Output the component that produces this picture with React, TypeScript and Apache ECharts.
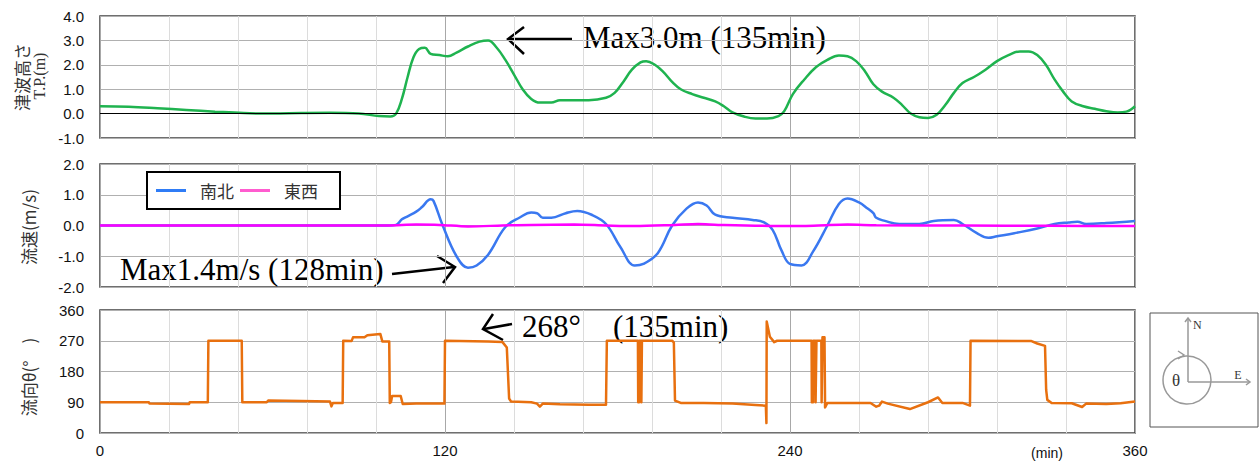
import React, { useEffect, useRef } from "react";
import * as echarts from "echarts";

// time (min) / value pairs
const tsunamiHeight: [number, number][] = [
  [0, 0.3], [10, 0.28], [20, 0.22], [30, 0.15], [40, 0.08], [50, 0.02], [60, 0.0], [70, 0.02], [80, 0.03],
  [90, 0.0], [97, -0.1], [101, -0.12], [103, 0.0], [105, 0.6], [107, 1.5], [109, 2.3], [111, 2.65], [113, 2.7],
  [115, 2.45], [118, 2.4], [121, 2.35], [124, 2.5], [128, 2.75], [132, 2.95], [135, 3.0], [138, 2.7], [141, 2.2],
  [144, 1.6], [147, 1.0], [150, 0.6], [153, 0.45], [157, 0.45], [160, 0.55], [165, 0.55], [170, 0.55], [176, 0.65],
  [179, 0.85], [182, 1.3], [185, 1.8], [188, 2.1], [190, 2.15], [193, 2.0], [196, 1.7], [199, 1.3], [202, 1.0],
  [206, 0.8], [210, 0.65], [214, 0.5], [217, 0.3], [220, 0.05], [224, -0.12], [228, -0.2], [232, -0.2], [236, -0.1],
  [238, 0.1], [241, 0.8], [245, 1.4], [249, 1.9], [253, 2.2], [257, 2.38], [260, 2.35], [263, 2.15], [266, 1.75],
  [269, 1.2], [272, 0.9], [276, 0.65], [279, 0.35], [282, 0.0], [285, -0.15], [288, -0.18], [291, -0.05], [294, 0.35],
  [297, 0.85], [300, 1.25], [304, 1.5], [308, 1.8], [312, 2.15], [316, 2.4], [320, 2.55], [323, 2.55], [326, 2.4],
  [329, 2.0], [332, 1.4], [335, 0.9], [338, 0.5], [342, 0.3], [346, 0.2], [350, 0.1], [354, 0.05], [357, 0.08], [360, 0.3],
];

const velocityNS: [number, number][] = [
  [0, 0], [60, 0], [100, 0], [103, 0.02], [105, 0.2], [107, 0.3], [110, 0.45], [112, 0.6], [115, 0.85], [116, 0.8],
  [119, 0.05], [124, -1.0], [128, -1.37], [131, -1.3], [135, -0.95], [141, -0.05], [146, 0.26], [150, 0.42],
  [152, 0.4], [154, 0.25], [157, 0.25], [162, 0.4], [166, 0.47], [171, 0.35], [176, 0.05], [181, -0.7], [186, -1.3],
  [189, -1.25], [194, -0.9], [199, 0], [204, 0.55], [208, 0.75], [211, 0.65], [214, 0.35], [220, 0.25], [227, 0.18],
  [231, 0.1], [234, -0.15], [237, -0.8], [240, -1.25], [244, -1.3], [248, -0.85], [253, 0], [257, 0.7], [260, 0.88],
  [264, 0.75], [267, 0.55], [269, 0.4], [270, 0.25], [273, 0.15], [278, 0.05], [285, 0.05], [290, 0.15], [297, 0.18],
  [300, 0.05], [305, -0.25], [309, -0.4], [312, -0.35], [318, -0.25], [326, -0.1], [332, 0.05], [337, 0.1],
  [340, 0.12], [343, 0.05], [350, 0.08], [360, 0.15],
];

const velocityEW: [number, number][] = [
  [0, 0], [100, 0], [110, 0.03], [118, 0.02], [128, -0.03], [140, 0], [150, 0.02], [165, 0.03], [176, 0.0],
  [186, -0.02], [200, 0.02], [208, 0.05], [215, 0.02], [240, -0.02], [250, 0.0], [260, 0.03], [270, 0.01],
  [300, 0.0], [330, -0.01], [360, -0.02],
];

const flowDirection: [number, number][] = [
  [0, 90], [17, 90], [17.2, 86], [31, 85], [31.2, 90], [37.5, 90], [37.7, 270], [49.3, 270], [49.5, 90], [58, 90],
  [58.5, 95], [70, 94], [75, 93], [80, 92], [80.5, 78], [81, 88], [84.4, 88], [84.6, 270], [87.5, 269], [88, 280],
  [92, 280], [93, 286], [97.5, 290], [98.2, 268], [100.6, 268], [100.8, 88], [101.2, 90], [101.6, 108], [104.6, 108],
  [105.3, 85], [110, 86], [119.8, 86], [120, 270], [135, 268], [140, 266], [141.5, 250], [142.3, 101], [143, 92],
  [150, 90], [152, 86], [153, 77], [154, 86], [160, 84], [170, 83], [176, 83], [176.3, 270], [187.1, 270],
  [187.2, 90], [187.5, 90], [187.6, 270], [188.2, 270], [188.3, 90], [188.5, 270], [199, 270], [199.6, 265],
  [200, 95], [202, 88], [210, 88], [220, 86], [228, 82], [231.6, 80], [231.8, 29], [231.9, 326], [233, 282],
  [234.5, 266], [235.5, 270], [247.5, 270], [247.6, 90], [248, 90], [248.1, 270], [248.8, 270], [248.9, 90],
  [249.2, 270], [250.9, 270], [251, 90], [251.3, 280], [252, 280], [252.2, 75], [253, 88], [262, 88], [268, 88],
  [270, 77], [271, 80], [272, 92], [274, 86], [281.7, 70], [288, 90], [291.5, 104], [293, 88], [300, 88],
  [302.6, 80], [302.8, 270], [324, 269], [326, 262], [328.7, 255], [329.1, 126], [329.5, 97], [331, 88],
  [338, 87], [341.6, 76], [343, 86], [350, 85], [355, 87], [360, 92],
];

const yTicksHeight = [-1, 4, 1];
const yTicksVelocity = [-2, 2, 1];
const yTicksDirection = [0, 360, 90];
const xTicks = [0, 360, 24];

const GRIDS = [
  { top: 16, height: 122 },
  { top: 164, height: 123 },
  { top: 310, height: 123 },
];

export default function App() {
  const ref = useRef<HTMLDivElement>(null);
  useEffect(() => {
    if (!ref.current) return;
    const chart = echarts.init(ref.current, null, { renderer: "svg" });
    const sans = "Liberation Sans, Arial, sans-serif";
    const serif = "Liberation Serif, Times New Roman, serif";
    const cjk = "Noto Sans CJK JP, sans-serif";

    const xAxisBase = (gi: number, showLabels: boolean) => ({
      type: "value",
      gridIndex: gi,
      min: xTicks[0],
      max: xTicks[1],
      interval: xTicks[2],
      axisLine: { show: false },
      axisTick: { show: false },
      axisLabel: {
        show: showLabels,
        fontFamily: sans,
        fontSize: 15,
        color: "#111",
        margin: 10,
        formatter: (v: number) => (v % 120 === 0 ? String(v) : ""),
      },
      splitLine: {
        show: true,
        lineStyle: { color: ["#a8a8a8", "#dcdcdc", "#dcdcdc", "#dcdcdc", "#dcdcdc"], width: 1 },
      },
    });

    const yAxisBase = (gi: number, ticks: number[], dec: boolean) => ({
      type: "value",
      gridIndex: gi,
      min: ticks[0],
      max: ticks[1],
      interval: ticks[2],
      axisLine: { show: false },
      axisTick: { show: false },
      axisLabel: {
        fontFamily: sans,
        fontSize: 15,
        color: "#111",
        margin: 16,
        formatter: (v: number) => (dec ? v.toFixed(1) : String(v)),
      },
      splitLine: { show: true, lineStyle: { color: "#b0b0b0", width: 1 } },
    });

    const arrowStyle = { stroke: "#000", lineWidth: 2.5, fill: "none" };
    const grayStyle = { stroke: "#999", lineWidth: 1.5, fill: "none" };

    chart.setOption({
      animation: false,
      backgroundColor: "#fff",
      grid: GRIDS.map((g) => ({
        left: 100,
        right: 125,
        top: g.top,
        height: g.height,
        show: true,
        borderColor: "#404040",
        borderWidth: 1.5,
        backgroundColor: "transparent",
      })),
      xAxis: [xAxisBase(0, false), xAxisBase(1, false), xAxisBase(2, true)],
      yAxis: [
        yAxisBase(0, yTicksHeight, true),
        yAxisBase(1, yTicksVelocity, true),
        yAxisBase(2, yTicksDirection, false),
      ],
      legend: {
        left: 147,
        top: 172,
        orient: "horizontal",
        backgroundColor: "#fff",
        borderColor: "#000",
        borderWidth: 2,
        borderRadius: 0,
        padding: [10, 22, 10, 9],
        itemGap: 6,
        itemWidth: 30,
        itemHeight: 3,
        icon: "rect",
        textStyle: { fontFamily: cjk, fontSize: 17, color: "#333", padding: [0, 3, 0, 9] },
        data: [
          { name: "南北", itemStyle: { color: "#2f7cf6" } },
          { name: "東西", itemStyle: { color: "#ff5ccf" } },
        ],
      },
      series: [
        {
          name: "津波高さ",
          type: "line",
          xAxisIndex: 0,
          yAxisIndex: 0,
          data: tsunamiHeight,
          smooth: 0.4,
          showSymbol: false,
          lineStyle: { color: "#1fb34f", width: 2.5 },
          itemStyle: { color: "#1fb34f" },
          markLine: {
            silent: true,
            symbol: "none",
            label: { show: false },
            lineStyle: { color: "#000", width: 1.2, type: "solid" },
            data: [{ yAxis: 0 }],
          },
          z: 3,
        },
        {
          name: "東西",
          type: "line",
          xAxisIndex: 1,
          yAxisIndex: 1,
          data: velocityEW,
          smooth: 0.3,
          showSymbol: false,
          lineStyle: { color: "#ff00ff", width: 2.5 },
          itemStyle: { color: "#ff00ff" },
          z: 3,
        },
        {
          name: "南北",
          type: "line",
          xAxisIndex: 1,
          yAxisIndex: 1,
          data: velocityNS,
          smooth: 0.4,
          showSymbol: false,
          lineStyle: { color: "#3a78f0", width: 2.5 },
          itemStyle: { color: "#3a78f0" },
          z: 2,
        },
        {
          name: "流向",
          type: "line",
          xAxisIndex: 2,
          yAxisIndex: 2,
          data: flowDirection,
          showSymbol: false,
          lineStyle: { color: "#e8700f", width: 2.5, join: "round" },
          itemStyle: { color: "#e8700f" },
          z: 3,
        },
      ],
      graphic: [
        // y-axis titles
        { type: "text", x: 21, y: 77, rotation: Math.PI / 2, style: { text: "津波高さ", font: `17px ${cjk}`, fill: "#333", align: "center", verticalAlign: "middle" } },
        { type: "text", x: 39, y: 76, rotation: Math.PI / 2, style: { text: "T.P.(m)", font: `16px ${serif}`, fill: "#333", align: "center", verticalAlign: "middle" } },
        { type: "text", x: 28, y: 227, rotation: Math.PI / 2, style: { text: "流速(m/s)", font: `17px ${cjk}`, fill: "#333", align: "center", verticalAlign: "middle" } },
        { type: "text", x: 28, y: 377, rotation: Math.PI / 2, style: { text: "流向θ(°　)", font: `17px ${cjk}`, fill: "#333", align: "center", verticalAlign: "middle" } },
        { type: "text", x: 1047, y: 453, style: { text: "(min)", font: `14px ${sans}`, fill: "#111", align: "center", verticalAlign: "middle" } },
        // annotation: max height
        { type: "line", shape: { x1: 572, y1: 39, x2: 509, y2: 39 }, style: arrowStyle },
        { type: "polyline", shape: { points: [[524, 27], [508, 39], [524, 54]] }, style: arrowStyle },
        { type: "text", x: 583, y: 37, style: { text: "Max3.0m (135min)", font: `31px ${serif}`, fill: "#000", align: "left", verticalAlign: "middle" } },
        // annotation: max velocity
        { type: "text", x: 120, y: 269, style: { text: "Max1.4m/s (128min)", font: `31px ${serif}`, fill: "#000", align: "left", verticalAlign: "middle" } },
        { type: "line", shape: { x1: 392, y1: 274, x2: 454, y2: 267 }, style: arrowStyle },
        { type: "polyline", shape: { points: [[437, 256], [455, 267], [443, 283]] }, style: arrowStyle },
        // annotation: direction
        { type: "line", shape: { x1: 512, y1: 324, x2: 484, y2: 329 }, style: arrowStyle },
        { type: "polyline", shape: { points: [[493, 314], [483, 329], [503, 340]] }, style: arrowStyle },
        { type: "text", x: 522, y: 326, style: { text: "268°", font: `31px ${serif}`, fill: "#000", align: "left", verticalAlign: "middle" } },
        { type: "text", x: 613, y: 326, style: { text: "(135min)", font: `31px ${serif}`, fill: "#000", align: "left", verticalAlign: "middle" } },
        // compass box
        { type: "rect", shape: { x: 1150, y: 313, width: 108, height: 114 }, style: { stroke: "#555", lineWidth: 1, fill: "#fff" } },
        { type: "circle", shape: { cx: 1187, cy: 380, r: 24 }, style: grayStyle },
        { type: "polyline", shape: { points: [[1178, 351], [1184, 355], [1178, 359]] }, style: grayStyle },
        { type: "line", shape: { x1: 1188, y1: 382, x2: 1188, y2: 318 }, style: grayStyle },
        { type: "polyline", shape: { points: [[1185, 322], [1188, 318], [1191, 322]] }, style: grayStyle },
        { type: "line", shape: { x1: 1188, y1: 382, x2: 1250, y2: 382 }, style: grayStyle },
        { type: "polyline", shape: { points: [[1246, 379], [1250, 382], [1246, 385]] }, style: grayStyle },
        { type: "text", x: 1193, y: 325, style: { text: "N", font: `12px ${serif}`, fill: "#333", align: "left", verticalAlign: "middle" } },
        { type: "text", x: 1238, y: 375, style: { text: "E", font: `12px ${serif}`, fill: "#333", align: "center", verticalAlign: "middle" } },
        { type: "text", x: 1176, y: 380, style: { text: "θ", font: `17px ${serif}`, fill: "#333", align: "center", verticalAlign: "middle" } },
      ],
    });
    return () => chart.dispose();
  }, []);
  return <div ref={ref} style={{ position: "fixed", left: 0, top: 0, width: 1260, height: 466 }} />;
}
